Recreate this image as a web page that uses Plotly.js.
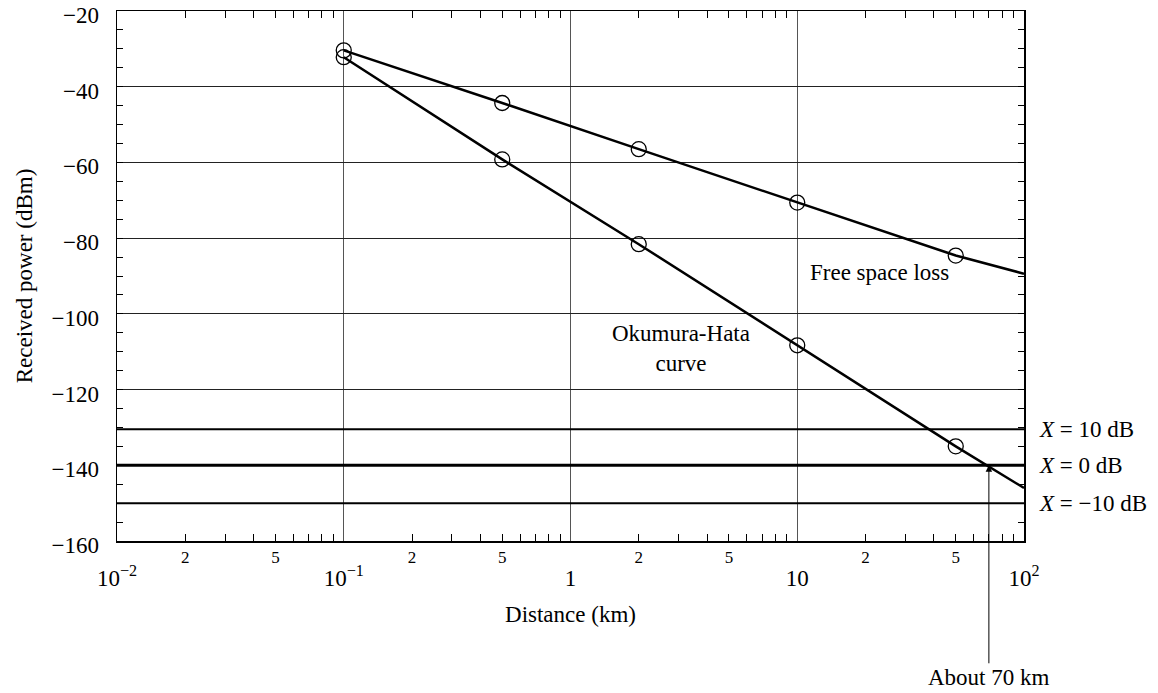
<!DOCTYPE html>
<html>
<head>
<meta charset="utf-8">
<script src="https://cdn.plot.ly/plotly-3.0.1.min.js"></script>
<style>html,body{margin:0;padding:0;background:#fff;}#chart{width:1158px;height:693px;}</style>
</head>
<body>
<div id="chart"></div>
<script>
// Distances (km) where the curves are sampled, plus the right-edge end point
const distances = [0.1, 0.5, 2, 10, 50, 100];
const freeSpaceLoss = [-30.4, -44.3, -56.5, -70.6, -84.6, -89.4];
const okumuraHata = [-32.2, -59.2, -81.6, -108.3, -135.0, -146.0];
const markerCount = 5; // circles drawn on the first five samples

// Margin levels (dBm) and their labels
const levels = [-130.5, -140, -150];
const levelLabels = ["<i>X</i> = 10 dB", "<i>X</i> = 0 dB", "<i>X</i> = −10 dB"];
const levelWidths = [2, 3, 2];

// Axis ticks
const decadeVals = [0.01, 0.1, 1, 10, 100];
const decadeText = ["10<sup>−2</sup>", "10<sup>−1</sup>", "1", "10", "10<sup>2</sup>"];
const labeledMantissas = [2, 5];
const xRangeLog = [-2, 2];
const yRange = [-160, -20];

const crossingKm = 70;
const crossingLevel = -140;

const minorVals = [], labeledVals = [], labeledText = [];
for (let e = -2; e < 2; e++) {
  for (let m = 2; m <= 9; m++) {
    const v = m * Math.pow(10, e);
    minorVals.push(v);
    if (labeledMantissas.includes(m)) { labeledVals.push(v); labeledText.push(String(m)); }
  }
}

const font = '"Liberation Serif", "Times New Roman", serif';
const traces = [];
levels.forEach((lv, i) => {
  traces.push({
    x: [Math.pow(10, xRangeLog[0]), Math.pow(10, xRangeLog[1])], y: [lv, lv],
    xaxis: 'x2', mode: 'lines', line: {color: 'black', width: levelWidths[i]},
    hoverinfo: 'skip', showlegend: false
  });
});
[freeSpaceLoss, okumuraHata].forEach(series => {
  traces.push({x: distances, y: series, mode: 'lines',
    line: {color: 'black', width: 2.5}, showlegend: false});
  traces.push({x: distances.slice(0, markerCount), y: series.slice(0, markerCount),
    xaxis: 'x3', mode: 'markers',
    marker: {symbol: 'circle-open', size: 15, color: 'black', line: {width: 1.3, color: 'black'}},
    showlegend: false});
});

const annSize = 23;
const annotations = [
  {x: Math.log10(11.1), y: -89, xref: 'x', yref: 'y', text: 'Free space loss', showarrow: false,
   xanchor: 'left', yanchor: 'middle', font: {family: font, size: annSize, color: 'black'}},
  {x: Math.log10(3.06), y: -109.2, xref: 'x', yref: 'y', text: 'Okumura-Hata<br>curve', showarrow: false,
   xanchor: 'center', yanchor: 'middle', font: {family: font, size: annSize, color: 'black'}},
  {x: Math.log10(crossingKm), y: crossingLevel, xref: 'x', yref: 'y', text: 'About 70 km',
   showarrow: true, arrowhead: 2, arrowsize: 1.3, arrowwidth: 1, arrowcolor: 'black',
   ax: 0, ay: 212, standoff: 0, font: {family: font, size: annSize, color: 'black'}}
];
levels.forEach((lv, i) => {
  annotations.push({x: 1.014, y: lv, xref: 'paper', yref: 'y', text: levelLabels[i], showarrow: false,
    xanchor: 'left', yanchor: 'middle', font: {family: font, size: annSize, color: 'black'}});
});

const layout = {
  width: 1158, height: 693,
  margin: {l: 117, r: 134, t: 11, b: 152},
  paper_bgcolor: 'white', plot_bgcolor: 'white',
  font: {family: font, color: 'black'},
  showlegend: false,
  xaxis: {
    type: 'log', range: xRangeLog, tickmode: 'array', tickvals: decadeVals, ticktext: decadeText,
    ticks: '', showgrid: true, gridcolor: '#555', gridwidth: 1, zeroline: false,
    showline: true, linecolor: 'black', linewidth: 1.5, mirror: true,
    tickfont: {family: font, size: 23, color: 'black'}, ticklabelstandoff: 16, ticklabeloverflow: 'allow',
    title: {text: 'Distance (km)', font: {family: font, size: 23, color: 'black'}, standoff: 16}
  },
  xaxis2: {
    type: 'log', range: xRangeLog, overlaying: 'x', anchor: 'y', side: 'bottom',
    tickmode: 'array', tickvals: labeledVals, ticktext: labeledText,
    ticks: '', showgrid: false, showline: false, zeroline: false,
    tickfont: {family: font, size: 17, color: 'black'}, ticklabelstandoff: 4
  },
  xaxis3: {
    type: 'log', range: xRangeLog, overlaying: 'x', anchor: 'y', side: 'bottom',
    tickmode: 'array', tickvals: minorVals, showticklabels: false,
    ticks: 'inside', ticklen: 7, tickwidth: 1, tickcolor: 'black', mirror: 'ticks',
    showgrid: false, showline: false, zeroline: false
  },
  yaxis: {
    range: yRange, tickmode: 'linear', tick0: -160, dtick: 20,
    ticks: 'inside', ticklen: 6, tickcolor: 'black', tickwidth: 1,
    minor: {dtick: 5, ticks: 'inside', ticklen: 6, tickcolor: 'black', tickwidth: 1, showgrid: false},
    showgrid: true, gridcolor: '#222', gridwidth: 1, zeroline: false,
    showline: true, linecolor: 'black', linewidth: 1.5, mirror: 'allticks',
    tickfont: {family: font, size: 23, color: 'black'}, ticklabelstandoff: 12,
    ticklabeloverflow: 'allow', ticklabelshift: 4,
    title: {text: 'Received power (dBm)', font: {family: font, size: 23, color: 'black'}, standoff: 12}
  },
  annotations: annotations
};

Plotly.newPlot('chart', traces, layout, {displayModeBar: false, staticPlot: true});
</script>
</body>
</html>
